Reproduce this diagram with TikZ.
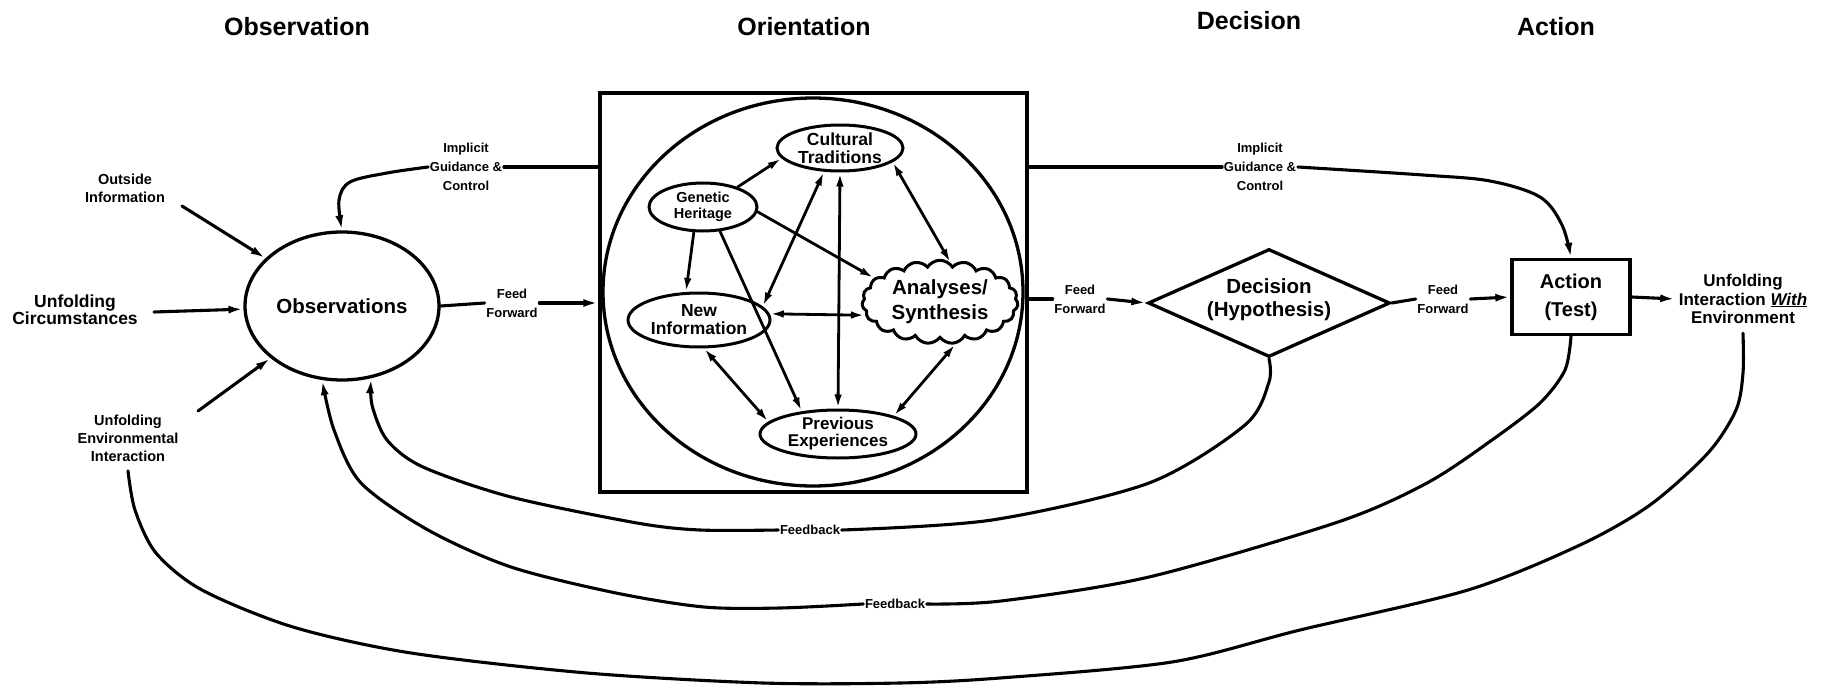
\documentclass[tikz,border=0pt]{standalone}
\usepackage{fontspec}
\setmainfont{Liberation Sans}
\usetikzlibrary{shapes.geometric,shapes.symbols,arrows.meta}
\begin{document}
\begin{tikzpicture}[x=1pt,y=-1pt,
  every node/.style={align=center},
  ln/.style={line width=3.1pt, line join=round, line cap=round},
  arr/.style={ln, -{Latex[length=15pt,width=8pt]}},
  sarr/.style={line width=2.8pt, line cap=round, -{Latex[length=14pt,width=7.5pt]}},
  darr/.style={line width=2.8pt, line cap=round, {Latex[length=14pt,width=7.5pt]}-{Latex[length=14pt,width=7.5pt]}},
  shp/.style={draw, line width=3.3pt},
  ttl/.style={font=\fontsize{25}{30}\selectfont\bfseries},
  lab/.style={font=\fontsize{13}{19}\selectfont\bfseries, inner sep=1.5pt},
  side/.style={font=\fontsize{14.5}{18}\selectfont\bfseries},
  mid/.style={font=\fontsize{17.5}{17}\selectfont\bfseries},
  oval/.style={shp, ellipse, inner sep=0pt, line width=3pt},
  bigt/.style={font=\fontsize{20.5}{23}\selectfont\bfseries}
]
\useasboundingbox (0,0) rectangle (1828,687);

% titles
\node[ttl] (tObs) at (297,27) {Observation};
\node[ttl] (tOri) at (804,27) {Orientation};
\node[ttl] (tDec) at (1249,21) {Decision};
\node[ttl] (tAct) at (1556,27) {Action};

% observation
\node[shp, ellipse, minimum width=194pt, minimum height=148pt, inner sep=0pt, font=\fontsize{20.5}{24}\selectfont\bfseries] (obs) at (342,306) {Observations};
\node[side] (outside) at (125,188) {Outside\\Information};
\node[mid] (circs) at (75,310) {Unfolding\\Circumstances};
\node[side] (uei) at (128,438) {Unfolding\\Environmental\\Interaction};
\coordinate (o1) at (182,206);
\coordinate (c1) at (154,312);
\coordinate (e1) at (198,411);
\draw[arr] (o1) -- (obs);
\draw[arr] (c1) -- (obs);
\draw[arr] (e1) -- (obs);

% orientation box
\node[shp, minimum width=427pt, minimum height=399pt] (box) at (813.5,292.5) {};
\node[shp, ellipse, minimum width=420pt, minimum height=388pt] (circ) at (813,292) {};
\node[oval, minimum width=126pt, minimum height=46pt, font=\fontsize{17.5}{18}\selectfont\bfseries] (ct) at (840,148) {Cultural\\Traditions};
\node[oval, minimum width=108pt, minimum height=48pt, font=\fontsize{14.5}{16}\selectfont\bfseries] (gh) at (703,207) {Genetic\\Heritage};
\node[oval, minimum width=142pt, minimum height=54pt, font=\fontsize{17.5}{18}\selectfont\bfseries] (ni) at (699,320) {New\\Information};
\node[draw, line width=3pt, cloud, cloud puffs=19, cloud puff arc=115, aspect=1.9, minimum width=156pt, minimum height=82pt, inner sep=0pt, font=\fontsize{20.5}{25}\selectfont\bfseries] (as) at (940,302) {Analyses/\\Synthesis};
\node[oval, minimum width=156pt, minimum height=48pt, font=\fontsize{17}{17}\selectfont\bfseries] (pe) at (838,434) {Previous\\Experiences};

\draw[sarr] (gh.30) -- (ct.190);
\draw[sarr] (gh.250) -- (ni.115);
\draw[sarr] (gh.305) -- (pe.148);
\draw[sarr] (gh.355) -- (as.160);
\draw[darr] (ct.236) -- (ni.12);
\draw[darr] (ct.south) -- (pe.north);
\draw[darr] (ct.345) -- (as.75);
\draw[darr] (ni.5) -- (as.190);
\draw[darr] (ni.280) -- (pe.170);
\draw[darr] (as.290) -- (pe.18);

% implicit guidance & feed forward (left)
\node[lab] (ig1) at (466,167) {Implicit\\Guidance \&\\Control};
\draw[ln] (ig1.east -| box.west) -- (ig1.east);
\draw[arr] plot[smooth, tension=0.55] coordinates {(ig1.west) (387,173) (350,182) (339,200) (obs.north)};
\node[lab] (ff1) at (512,303) {Feed\\Forward};
\draw[ln] (obs.east) -- (ff1.west);
\draw[arr] (ff1.east) -- (ff1.east -| box.west);

% decision
\node[shp, diamond, minimum width=242pt, minimum height=108pt, inner sep=0pt] (dec) at (1269,303) {};
\node[bigt] (dect) at (1269,300) {Decision\\(Hypothesis)};
\node[lab] (ff2) at (1080,299) {Feed\\Forward};
\draw[ln] (ff2.west -| box.east) -- (ff2.west);
\draw[arr] (ff2.east) -- (dec.west);

% action
\node[shp, minimum width=118pt, minimum height=75pt, font=\fontsize{20}{28}\selectfont\bfseries] (act) at (1571,297) {Action\\(Test)};
\node[lab] (ff3) at (1443,299) {Feed\\Forward};
\draw[ln] (dec.east) -- (ff3.west);
\draw[arr] (ff3.east) -- (act.west);
\node[font=\fontsize{17}{18.5}\selectfont\bfseries] (ui) at (1743,299) {Unfolding\\Interaction \underline{\textit{With}}\\Environment};
\draw[arr] (act.east) -- (ui.west);

% implicit guidance (right)
\node[lab] (ig2) at (1260,167) {Implicit\\Guidance \&\\Control};
\draw[ln] (ig2.west -| box.east) -- (ig2.west);
\draw[arr] plot[smooth, tension=0.55] coordinates {(ig2.east) (1423,175) (1490,181) (1540,197) (1562,225) (act.north)};

% feedback loops
\node[lab] (fb1) at (810,530) {Feedback};
\node[lab] (fb2) at (895,604) {Feedback};
\draw[ln] plot[smooth, tension=0.5] coordinates {(dec.south) (1269,382) (1245,425) (1149,483) (992,520) (fb1.east)};
\draw[arr] plot[smooth, tension=0.5] coordinates {(fb1.west) (700,530) (637,523) (511,497) (423,467) (387,440) (372,405) (obs.292)};
\draw[ln] plot[smooth, tension=0.5] coordinates {(act.south) (1565,370) (1540,403) (1492,440) (1427,483) (1338,522) (1149,577) (1001,601) (fb2.east)};
\draw[arr] plot[smooth, tension=0.5] coordinates {(fb2.west) (780,608) (704,607) (616,593) (511,567) (428,530) (361,483) (334,430) (obs.255)};
\coordinate (uiS) at ([yshift=-6pt]ui.south);
\coordinate (ueiS) at ([yshift=-6pt]uei.south);
\draw[ln] plot[smooth, tension=0.5] coordinates {(uiS) (1743,373) (1736,410) (1708,453) (1650,505) (1580,545) (1468,590) (1300,630) (1172,662) (1000,678) (900,683) (763,683) (587,673) (411,653) (293,627) (202,590) (156,553) (135,510) (ueiS)};
\end{tikzpicture}
\end{document}
